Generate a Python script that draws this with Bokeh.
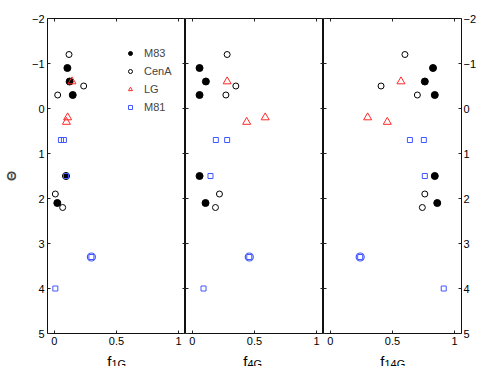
from bokeh.plotting import figure
from bokeh.layouts import row, column
from bokeh.models import Range1d, FixedTicker, LinearAxis, Label
from bokeh.embed import file_html
from bokeh.resources import INLINE

# ---- data ----
theta_m83 = [-0.9, -0.6, -0.3, 1.5, 2.1]
m83_f1G = [0.105, 0.123, 0.148, 0.094, 0.024]
m83_f4G = [0.058, 0.109, 0.058, 0.058, 0.106]
m83_f14G = [0.826, 0.760, 0.840, 0.840, 0.860]

theta_cena = [-1.2, -0.5, -0.3, 1.9, 2.2]
cena_f1G = [0.118, 0.236, 0.027, 0.008, 0.067]
cena_f4G = [0.280, 0.350, 0.270, 0.218, 0.186]
cena_f14G = [0.600, 0.408, 0.700, 0.760, 0.740]

theta_lg = [-0.6, 0.2, 0.3]
lg_f1G = [0.142, 0.107, 0.097]
lg_f4G = [0.280, 0.586, 0.437]
lg_f14G = [0.568, 0.300, 0.458]

theta_m81 = [0.7, 0.7, 1.5, 3.3, 4.0]
m81_f1G = [0.053, 0.077, 0.094, 0.298, 0.008]
m81_f4G = [0.189, 0.280, 0.146, 0.458, 0.090]
m81_f14G = [0.752, 0.640, 0.760, 0.240, 0.912]

# the M81 point that is additionally circled
ring_theta = [3.3]
ring_f1G = [0.298]
ring_f4G = [0.458]
ring_f14G = [0.240]

x_tick_values = [0, 0.5, 1]
x_tick_labels = ["0", "0.5", "1"]
y_tick_values = [-2, -1, 0, 1, 2, 3, 4, 5]
y_tick_labels = ["\u22122", "\u22121", "0", "1", "2", "3", "4", "5"]

panel_subs = ["1G", "4G", "14G"]
series_names = ["M83", "CenA", "LG", "M81"]

FONT = "Liberation Sans"
BLUE = "#4257ff"
RED = "#ff2828"
BORDERS = [(41, 0), (0, 0), (0, 20)]
SPLITS = [1, -1, -2]


def style_axis(ax, ticks, labels, show_labels, standoff=3):
    ax.ticker = FixedTicker(ticks=ticks)
    ax.major_label_overrides = {t: l for t, l in zip(ticks, labels)}
    ax.axis_line_color = None
    ax.major_tick_in = 3
    ax.major_tick_out = 0
    ax.major_tick_line_color = "#222222"
    ax.minor_tick_line_color = None
    ax.major_label_text_font = FONT
    if show_labels:
        ax.major_label_text_font_size = "11px"
        ax.major_label_text_color = "black"
        ax.major_label_standoff = standoff
    else:
        ax.major_label_text_font_size = "0px"
        ax.major_label_standoff = 0


def make_panel(idx, xs):
    bl, br = BORDERS[idx]
    p = figure(frame_width=138, frame_height=315,
               x_range=Range1d(-0.055, 1.055), y_range=Range1d(5, -2),
               output_backend="svg", toolbar_location=None,
               x_axis_location=None, y_axis_location=None,
               min_border_left=bl, min_border_right=br,
               min_border_top=18, min_border_bottom=0)
    p.grid.visible = False
    p.outline_line_color = "#111111"
    p.outline_line_width = 1
    p.background_fill_color = "white"
    p.border_fill_color = "white"

    bottom = LinearAxis()
    style_axis(bottom, x_tick_values, x_tick_labels, True, standoff=3)
    p.add_layout(bottom, "below")
    top = LinearAxis()
    style_axis(top, x_tick_values, x_tick_labels, False)
    p.add_layout(top, "above")

    left = LinearAxis()
    style_axis(left, y_tick_values, y_tick_labels, idx == 0, standoff=3)
    if idx == 0:
        left.axis_label = "\u0398"
        left.axis_label_text_font = FONT
        left.axis_label_text_font_style = "bold"
        left.axis_label_text_font_size = "13px"
        left.axis_label_standoff = 10
    p.add_layout(left, "left")
    right = LinearAxis()
    style_axis(right, y_tick_values, y_tick_labels, idx == 2, standoff=2)
    p.add_layout(right, "right")

    f83, fca, flg, f81, fring = xs
    leg = (lambda i: {"legend_label": series_names[i]}) if idx == 0 else (lambda i: {})
    p.scatter(f83, theta_m83, marker="circle", size=7, fill_color="black",
              line_color="black", **leg(0))
    p.scatter(fca, theta_cena, marker="circle", size=6, fill_color=None,
              line_color="black", line_width=1, **leg(1))
    p.scatter(flg, theta_lg, marker="triangle", size=8, fill_color=None,
              line_color=RED, line_width=1, **leg(2))
    p.scatter(f81, theta_m81, marker="square", size=5, fill_color=None,
              line_color=BLUE, line_width=1, **leg(3))
    p.scatter(fring, ring_theta, marker="circle", size=8, fill_color=None,
              line_color=BLUE, line_width=1.2)

    if idx == 0:
        lg = p.legend[0]
        lg.location = (78, 219)
        lg.border_line_color = None
        lg.background_fill_alpha = 0
        lg.padding = 0
        lg.margin = 0
        lg.spacing = 4
        lg.label_height = 14
        lg.glyph_height = 14
        lg.glyph_width = 10
        lg.label_standoff = 9
        lg.label_text_font = FONT
        lg.label_text_font_size = "11px"
    return p


def make_strip(idx, panel, h):
    # strip under each panel that carries the x-axis label "f" with its subscript
    bl, br = BORDERS[idx]
    s = figure(frame_width=138, frame_height=h,
               x_range=panel.x_range, y_range=Range1d(0, h),
               output_backend="svg", toolbar_location=None,
               x_axis_location=None, y_axis_location=None,
               min_border_left=bl, min_border_right=br,
               min_border_top=0, min_border_bottom=0)
    s.grid.visible = False
    s.outline_line_color = None
    s.border_fill_color = "white"
    split = SPLITS[idx]
    s.add_layout(Label(x=0.5, y=5, x_units="data", y_units="screen",
                       text="f", text_align="right", text_baseline="alphabetic",
                       x_offset=split, text_font=FONT,
                       text_font_size="15px", text_color="black"))
    s.add_layout(Label(x=0.5, y=3, x_units="data", y_units="screen",
                       text=panel_subs[idx], text_align="left",
                       text_baseline="alphabetic", x_offset=split,
                       text_font=FONT, text_font_size="11px",
                       text_color="black"))
    return s


p1 = make_panel(0, (m83_f1G, cena_f1G, lg_f1G, m81_f1G, ring_f1G))
p2 = make_panel(1, (m83_f4G, cena_f4G, lg_f4G, m81_f4G, ring_f4G))
p3 = make_panel(2, (m83_f14G, cena_f14G, lg_f14G, m81_f14G, ring_f14G))
panels = [p1, p2, p3]
strips = [make_strip(i, p, 19) for i, p in enumerate(panels)]

layout = column(row(*panels), row(*strips))
open("out.html", "w").write(file_html(layout, INLINE))
